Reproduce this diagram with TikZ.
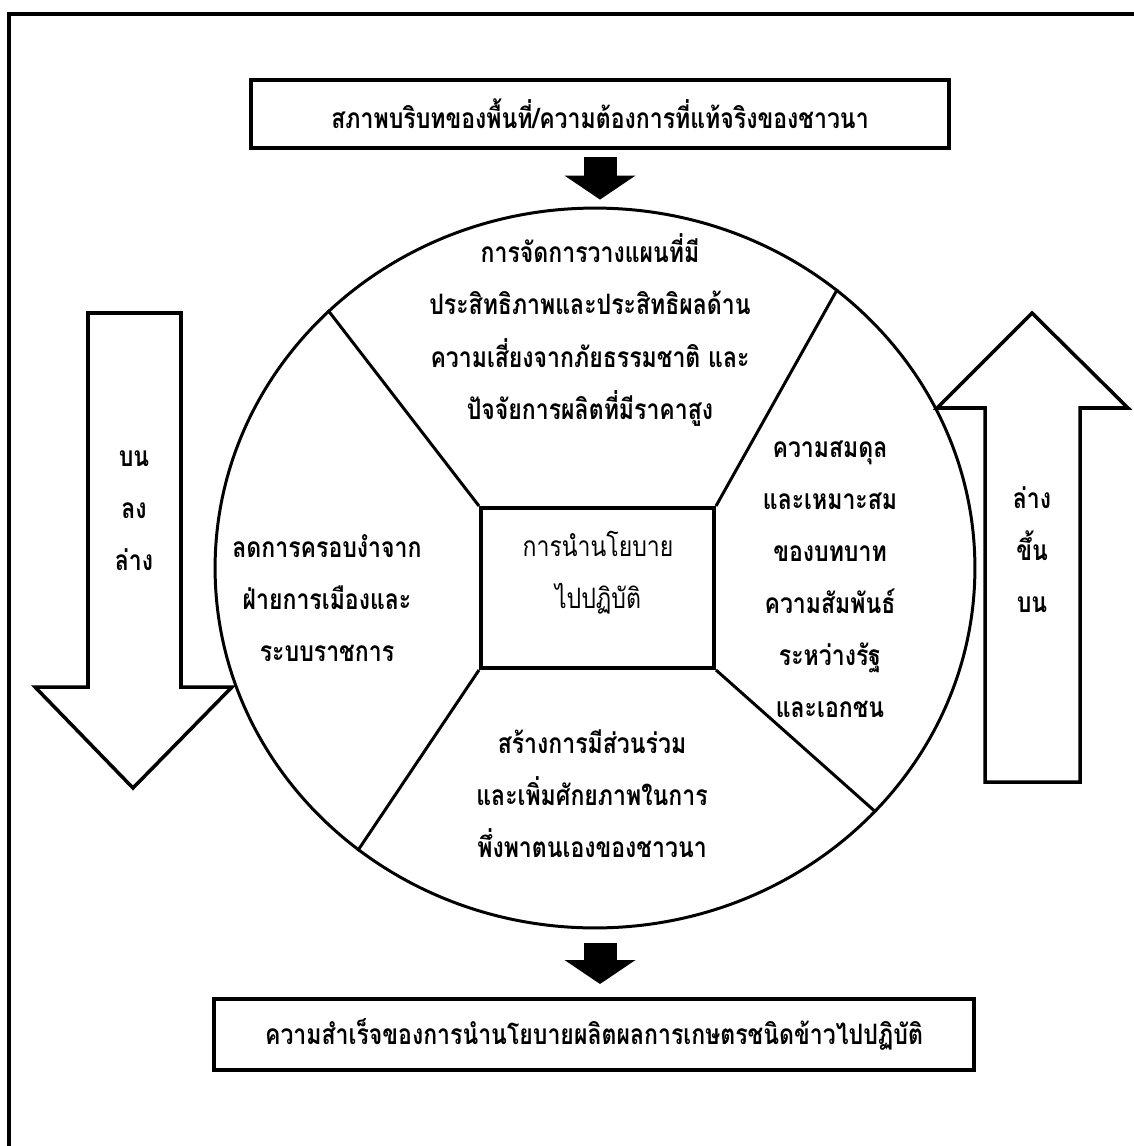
\documentclass[tikz,border=0pt]{standalone}
\usepackage{fontspec}
\newfontfamily\thaifont[Script=Thai, FakeStretch=0.82]{Loma}
\usetikzlibrary{shapes.geometric,arrows.meta,positioning}

\begin{document}
\begin{tikzpicture}[x=0.02cm,y=-0.02cm,
    thaitext/.style={font=\thaifont\bfseries\fontsize{16}{29.6}\selectfont, align=center, inner sep=0pt},
    thinthai/.style={font=\thaifont\fontsize{16}{29.6}\selectfont, align=center, inner sep=0pt},
    framebox/.style={draw, line width=2.3pt, inner sep=0pt},
    divider/.style={line width=1.7pt},
    hollowarrow/.style={draw, line width=2pt, line join=miter},
    flowarrow/.style={line width=0.66cm, -{Triangle[width=1.42cm, length=0.48cm, line width=0pt]}},
  ]
  \useasboundingbox (0,0) rectangle (1133,1146);

  % Frame
  \draw[line width=2.8pt] (9,1160) -- (9,14) -- (1145,14);

  % Nodes
  \node (context) [framebox, thaitext, minimum width=13.96cm, minimum height=1.36cm] at (600,114) {สภาพบริบทของพื้นที่/ความต้องการที่แท้จริงของชาวนา};
  \node (ring) [draw, ellipse, line width=1.7pt, minimum width=15.2cm, minimum height=14.4cm, inner sep=0pt] at (595,568) {};
  \node (core) [framebox, minimum width=4.66cm, minimum height=3.2cm] at (597.5,588) {};
  \node (coretext) [thinthai] at (598,573) {การนำนโยบาย\\ไปปฏิบัติ};
  \node (result) [framebox, thaitext, minimum width=15.2cm, minimum height=1.42cm] at (594,1034.5) {ความสำเร็จของการนำนโยบายผลิตผลการเกษตรชนิดข้าวไปปฏิบัติ};

  \node (plan) [thaitext] at (590,330) {การจัดการวางแผนที่มี\\ประสิทธิภาพและประสิทธิผลด้าน\\ความเสี่ยงจากภัยธรรมชาติ และ\\ปัจจัยการผลิตที่มีราคาสูง};
  \node (reduce) [thaitext] at (327,598) {ลดการครอบงำจาก\\ฝ่ายการเมืองและ\\ระบบราชการ};
  \node (balance) [thaitext] at (830,579) {ความสมดุล\\และเหมาะสม\\ของบทบาท\\ความสัมพันธ์\\ระหว่างรัฐ\\และเอกชน};
  \node (participate) [thaitext] at (592,794) {สร้างการมีส่วนร่วม\\และเพิ่มศักยภาพในการ\\พึ่งพาตนเองของชาวนา};

  % Side arrows
  \draw[hollowarrow] (88,313) -- (181,313) -- (181,687) -- (232,687) -- (133,788) -- (35,687) -- (88,687) -- cycle;
  \draw[hollowarrow] (985,782) -- (985,408) -- (937,408) -- (1032,313) -- (1128,408) -- (1080,408) -- (1080,782) -- cycle;
  \node (topdown) [thaitext] at (134,511) {บน\\ลง\\ล่าง};
  \node (bottomup) [thaitext] at (1032,550) {ล่าง\\ขึ้น\\บน};

  % Edges
  \draw[divider] (core.north west) -- (ring.136);
  \draw[divider] (core.north east) -- (ring.49);
  \draw[divider] (core.south east) -- (ring.-41);
  \draw[divider] (core.south west) -- (ring.230);
  \draw[flowarrow, shorten <=0.14cm, shorten >=0.14cm] (context.south) -- (context.south |- ring.north);
  \draw[flowarrow, shorten <=0.28cm, shorten >=0.26cm] (context.south |- ring.south) -- (context.south |- result.north);
\end{tikzpicture}
\end{document}
